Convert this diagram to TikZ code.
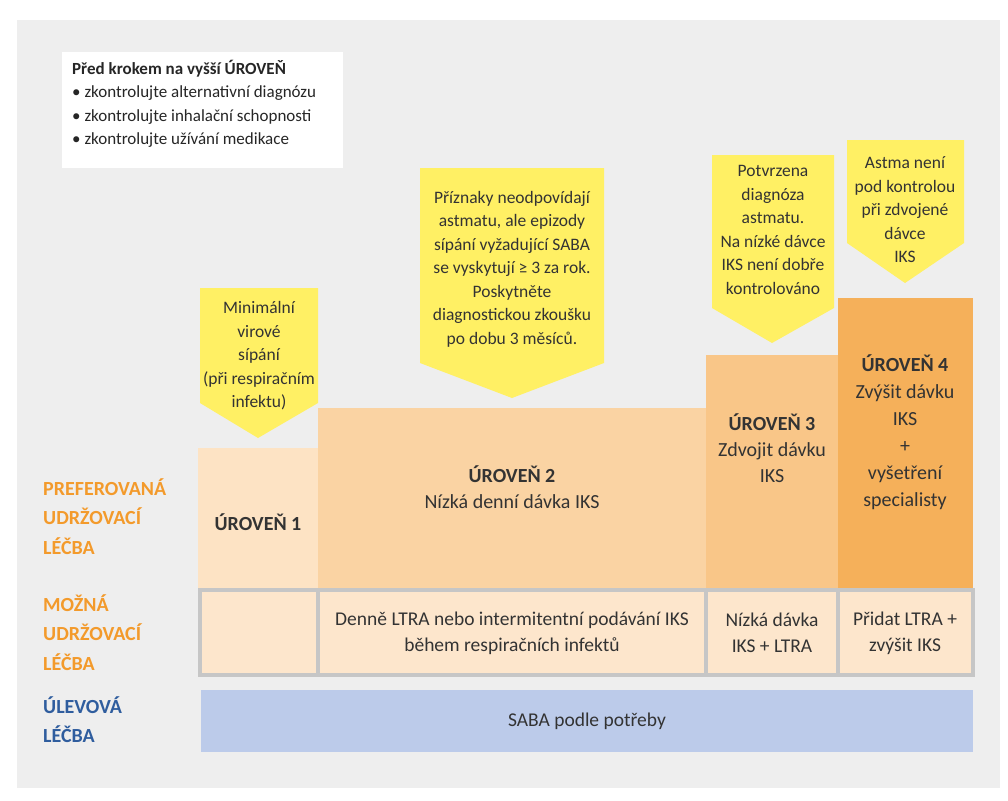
\documentclass[tikz,border=0pt]{standalone}
\usepackage{fontspec}
\setmainfont{Carlito}
\begin{document}
\begin{tikzpicture}[x=1pt,y=-1pt,
  txt/.style={text=black!80,font=\fontsize{17.5}{23.5}\selectfont,align=center,inner sep=0pt},
  lab/.style={font=\fontsize{20}{29.5}\selectfont\bfseries,align=left,anchor=north west,inner sep=0pt},
  cell/.style={draw=gray!45,line width=3.5pt,fill=fillpos}]
\definecolor{bg}{HTML}{EEEEEE}
\definecolor{yel}{HTML}{FFF064}
\definecolor{l1}{HTML}{FDE3C4}
\definecolor{l2}{HTML}{FAD3A3}
\definecolor{l3}{HTML}{F9C688}
\definecolor{l4}{HTML}{F5B05A}
\definecolor{fillpos}{HTML}{FDE6CC}
\definecolor{saba}{HTML}{BCCBEA}
\definecolor{ora}{HTML}{F39A2B}
\definecolor{blu}{HTML}{2F5D9E}
\useasboundingbox (0,0) rectangle (1008,800);
\fill[white] (0,0) rectangle (1008,800);
\fill[bg] (17,20) rectangle (1000,788);
% info box
\fill[white] (62,52) rectangle (343,168);
\node[anchor=north west,inner sep=0pt,align=left,text=black!85,font=\fontsize{17}{23.5}\selectfont] (info) at (72,60)
 {\textbf{Před krokem na vyšší ÚROVEŇ}\\• zkontrolujte alternativní diagnózu\\• zkontrolujte inhalační schopnosti\\• zkontrolujte užívání medikace};
% callouts
\fill[yel] (200,288) -- (318,288) -- (318,403) -- (258,438) -- (200,403) -- cycle;
\node[txt] (c1) at (259,356) {Minimální\\virové\\sípání\\(při respiračním\\infektu)};
\fill[yel] (420,168) -- (604,168) -- (604,363) -- (512,398) -- (420,363) -- cycle;
\node[txt] (c2) at (512,269) {Příznaky neodpovídají\\astmatu, ale epizody\\sípání vyžadující SABA\\se vyskytují ≥ 3 za rok.\\Poskytněte\\diagnostickou zkoušku\\po dobu 3 měsíců.};
\fill[yel] (712,155) -- (834,155) -- (834,308) -- (772,343) -- (712,308) -- cycle;
\node[txt] (c3) at (773,230) {Potvrzena\\diagnóza\\astmatu.\\Na nízké dávce\\IKS není dobře\\kontrolováno};
\fill[yel] (847,140) -- (964,140) -- (964,243) -- (905,283) -- (847,243) -- cycle;
\node[txt] (c4) at (905,210) {Astma není\\pod kontrolou\\při zdvojené\\dávce\\IKS};
% steps
\fill[l1] (198,448) rectangle (318,588);
\fill[l2] (318,408) rectangle (706,588);
\fill[l3] (706,355) rectangle (838,588);
\fill[l4] (838,298) rectangle (973,588);
\node[txt,font=\fontsize{20}{24}\selectfont\bfseries] (s1) at (258,522) {ÚROVEŇ 1};
\node[txt,font=\fontsize{20}{26}\selectfont] (s2) at (512,487) {\textbf{ÚROVEŇ 2}\\Nízká denní dávka IKS};
\node[txt,font=\fontsize{20}{26}\selectfont] (s3) at (772,448) {\textbf{ÚROVEŇ 3}\\Zdvojit dávku\\IKS};
\node[txt,font=\fontsize{20}{27}\selectfont] (s4) at (905,432) {\textbf{ÚROVEŇ 4}\\Zvýšit dávku\\IKS\\+\\vyšetření\\specialisty};
% possible row
\draw[cell] (200,590) rectangle (318,675);
\draw[cell] (318,590) rectangle (706,675);
\draw[cell] (706,590) rectangle (838,675);
\draw[cell] (838,590) rectangle (973,675);
\node[txt,font=\fontsize{19.5}{26}\selectfont] (p2) at (512,633) {Denně LTRA nebo intermitentní podávání IKS\\během respiračních infektů};
\node[txt,font=\fontsize{19.5}{26}\selectfont] (p3) at (772,633) {Nízká dávka\\IKS + LTRA};
\node[txt,font=\fontsize{19.5}{26}\selectfont] (p4) at (905,633) {Přidat LTRA +\\zvýšit IKS};
% saba
\fill[saba] (201,690) rectangle (973,752);
\node[txt,font=\fontsize{19.5}{22}\selectfont] (sb) at (587,721) {SABA podle potřeby};
% left labels
\node[lab,text=ora] (lp) at (43,478) {PREFEROVANÁ\\UDRŽOVACÍ\\LÉČBA};
\node[lab,text=ora] (lm) at (43,594) {MOŽNÁ\\UDRŽOVACÍ\\LÉČBA};
\node[lab,text=blu] (lu) at (43,696) {ÚLEVOVÁ\\LÉČBA};
\end{tikzpicture}
\end{document}
